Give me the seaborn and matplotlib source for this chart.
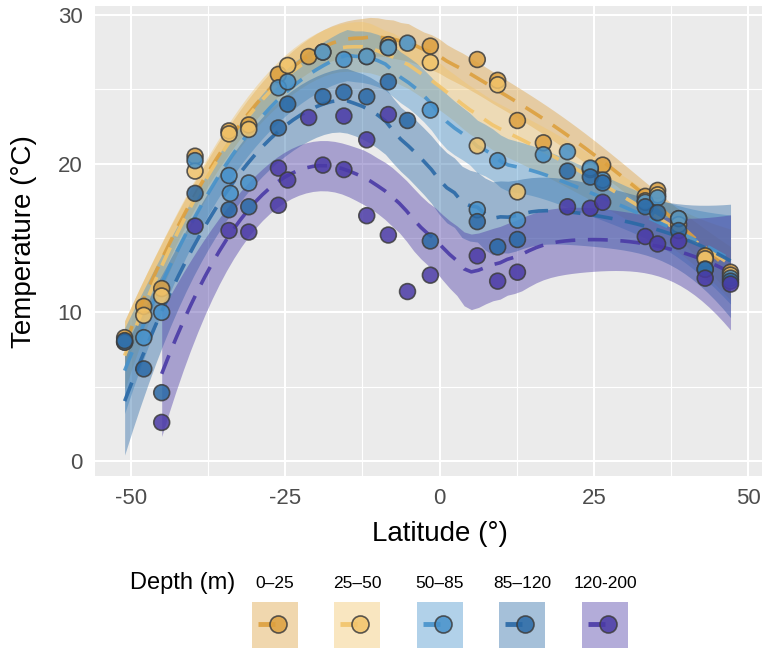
import numpy as np
import pandas as pd
import matplotlib
matplotlib.use("Agg")
import matplotlib.pyplot as plt
import seaborn as sns

sns.set_theme(style="darkgrid")
plt.rcParams['font.family'] = ['Liberation Sans', 'DejaVu Sans']
plt.rcParams['axes.unicode_minus'] = False

# depth classes and colours
depth_labels = ["0–25", "25–50", "50–85", "85–120", "120-200"]
depth_colors = ["#DDA03E", "#F2C46B", "#4792CB", "#2A69A6", "#4A3AA6"]

# temperature by latitude, one pair of lists per depth class
lat_0_25 = [-51.0, -47.9, -45.0, -39.6, -34.1, -30.9, -26.1, -21.2, -8.3, -1.5,
            6.1, 9.4, 12.6, 16.8, 26.4, 33.3, 35.3, 38.7, 43.0, 47.1]
temp_0_25 = [8.3, 10.4, 11.6, 20.5, 22.2, 22.6, 26.0, 27.2, 28.0, 27.9,
             27.0, 25.6, 22.9, 21.4, 19.9, 17.8, 18.2, 16.3, 13.8, 12.7]

lat_25_50 = [-51.0, -47.9, -45.0, -39.6, -34.1, -30.9, -24.6, -18.9, -11.8, -8.3,
             -1.5, 6.1, 9.4, 12.6, 24.4, 33.3, 35.3, 38.7, 43.0, 47.1]
temp_25_50 = [8.0, 9.8, 11.1, 19.5, 22.0, 22.3, 26.6, 27.5, 27.2, 27.8,
              26.8, 21.2, 25.3, 18.1, 19.6, 17.5, 17.9, 15.9, 13.6, 12.5]

lat_50_85 = [-51.0, -47.9, -45.0, -39.6, -34.1, -33.9, -30.9, -26.1, -24.6, -18.9,
             -15.5, -11.8, -8.3, -5.2, -1.5, 6.1, 9.4, 12.6, 16.8, 20.7,
             24.4, 26.4, 33.3, 35.3, 38.7, 43.0, 47.1]
temp_50_85 = [8.0, 8.3, 10.0, 20.2, 19.2, 18.0, 18.7, 25.1, 25.5, 27.5,
              27.0, 27.2, 27.8, 28.1, 23.6, 16.9, 20.2, 16.2, 20.6, 20.8,
              19.7, 18.9, 17.4, 17.7, 16.3, 12.9, 12.3]

lat_85_120 = [-51.0, -47.9, -45.0, -39.6, -34.1, -30.9, -26.1, -24.6, -18.9, -15.5,
              -11.8, -8.3, -5.2, -1.5, 6.1, 9.4, 12.6, 20.7, 24.4, 26.4,
              33.3, 35.3, 38.7, 43.0, 47.1]
temp_85_120 = [8.1, 6.2, 4.6, 18.0, 16.9, 17.1, 22.4, 24.0, 24.5, 24.8,
               24.5, 25.5, 22.9, 14.8, 16.1, 14.4, 14.9, 19.5, 19.1, 18.7,
               17.1, 16.7, 15.5, 12.9, 12.1]

lat_120_200 = [-45.0, -39.6, -34.1, -30.9, -26.1, -26.1, -24.6, -21.2, -18.9, -15.5,
               -15.5, -11.8, -11.8, -8.3, -8.3, -5.2, -1.5, 6.1, 9.4, 12.6,
               20.7, 24.4, 26.4, 33.3, 35.3, 38.7, 43.0, 47.1]
temp_120_200 = [2.6, 15.8, 15.5, 15.4, 19.7, 17.2, 18.9, 23.1, 19.9, 23.2,
                19.6, 21.6, 16.5, 23.3, 15.2, 11.4, 12.5, 13.8, 12.1, 12.7,
                17.1, 17.0, 17.4, 15.1, 14.6, 14.8, 12.3, 11.9]

lats = [lat_0_25, lat_25_50, lat_50_85, lat_85_120, lat_120_200]
temps = [temp_0_25, temp_25_50, temp_50_85, temp_85_120, temp_120_200]

df = pd.concat([pd.DataFrame({"lat": la, "temp": te, "depth": lab})
                for la, te, lab in zip(lats, temps, depth_labels)], ignore_index=True)


def loess_fit(x, y, xg, span=0.75):
    """local quadratic loess with 95% band, like geom_smooth"""
    x = np.asarray(x, float)
    y = np.asarray(y, float)
    n = len(x)
    q = int(np.floor(n * span))

    def hat_rows(points):
        rows = []
        for x0 in points:
            d = np.abs(x - x0)
            h = np.sort(d)[q - 1]
            w = np.clip(1 - (d / h) ** 3, 0, None) ** 3
            A = np.column_stack([np.ones(n), x - x0, (x - x0) ** 2])
            AtW = A.T * w
            rows.append(np.linalg.solve(AtW @ A, AtW)[0])
        return np.array(rows)

    M = np.eye(n) - hat_rows(x)
    MM = M.T @ M
    d1, d2 = np.trace(MM), np.trace(MM @ MM)
    sigma = np.sqrt(np.sum((M @ y) ** 2) / d1)
    Lg = hat_rows(xg)
    fit = Lg @ y
    se = sigma * np.sqrt(np.sum(Lg ** 2, axis=1))
    dof = d1 ** 2 / d2
    z = 1.959964
    t = z + (z ** 3 + z) / (4 * dof) + (5 * z ** 5 + 16 * z ** 3 + 3 * z) / (96 * dof ** 2)
    return fit, fit - t * se, fit + t * se


fig = plt.figure(figsize=(7.63, 6.49), dpi=100)
ax = fig.add_axes([0.1245, 0.2666, 0.8742, 0.7242])
ax.set_facecolor("#EBEBEB")

for la, te, col in zip(lats, temps, depth_colors):
    xg = np.linspace(min(la), max(la), 80)
    fit, lo, hi = loess_fit(la, te, xg)
    ax.fill_between(xg, lo, hi, color=col, alpha=0.42, lw=0, zorder=2)
    ax.plot(xg, fit, color=col, lw=2.6, alpha=0.9, dashes=(5.5, 3.5), zorder=3)

sns.scatterplot(data=df, x="lat", y="temp", hue="depth", hue_order=depth_labels,
                palette=dict(zip(depth_labels, depth_colors)), s=130, alpha=0.85,
                edgecolor="#3d3d3d", linewidth=1.2, legend=False, ax=ax, zorder=4)

ax.set_xlim(-55.8, 52.2)
ax.set_ylim(-1.0, 30.6)
ax.set_xticks([-50, -25, 0, 25, 50])
ax.set_xticks([-37.5, -12.5, 12.5, 37.5], minor=True)
ax.set_yticks([0, 10, 20, 30])
ax.set_yticks([5, 15, 25], minor=True)
ax.grid(which="major", color="white", lw=1.5)
ax.grid(which="minor", color="white", lw=0.8)
ax.set_axisbelow(True)
for s in ax.spines.values():
    s.set_visible(False)
ax.tick_params(axis="both", which="major", length=5, width=1.1, color="#333333",
               labelsize=16, labelcolor="#4D4D4D", pad=4)
ax.tick_params(axis="both", which="minor", length=0)
ax.set_xlabel("")
ax.set_ylabel("")

fig.text(440 / 763, 1 - 534 / 649, "Latitude (°)", ha="center", va="center",
         fontsize=20, color="black")
fig.text(24 / 763, 1 - 242 / 649, "Temperature (°C)", ha="center", va="center",
         fontsize=20, rotation=90, color="black")

# legend at the bottom: title, labels above coloured keys
fig.text(130 / 763, 1 - 583 / 649, "Depth (m)", ha="left", va="center",
         fontsize=17, color="black")
key_lefts = [252, 334, 417, 499, 582]
for left, lab, col in zip(key_lefts, depth_labels, depth_colors):
    fig.text((left + 23) / 763, 1 - 583 / 649, lab, ha="center", va="center",
             fontsize=12.5, color="black")
    kax = fig.add_axes([left / 763, 1 - 648 / 649, 46 / 763, 46 / 649])
    kax.set_xlim(0, 1)
    kax.set_ylim(0, 1)
    kax.axvspan(0, 1, color=col, alpha=0.42, lw=0)
    kax.plot([0.12, 0.5], [0.52, 0.52], color=col, lw=3.5, alpha=0.9, solid_capstyle="butt")
    kax.scatter([0.56], [0.52], s=150, color=col, alpha=0.85, edgecolor="#3d3d3d",
                linewidth=1.2, zorder=3)
    kax.axis("off")

fig.savefig("out.png", dpi=100)
